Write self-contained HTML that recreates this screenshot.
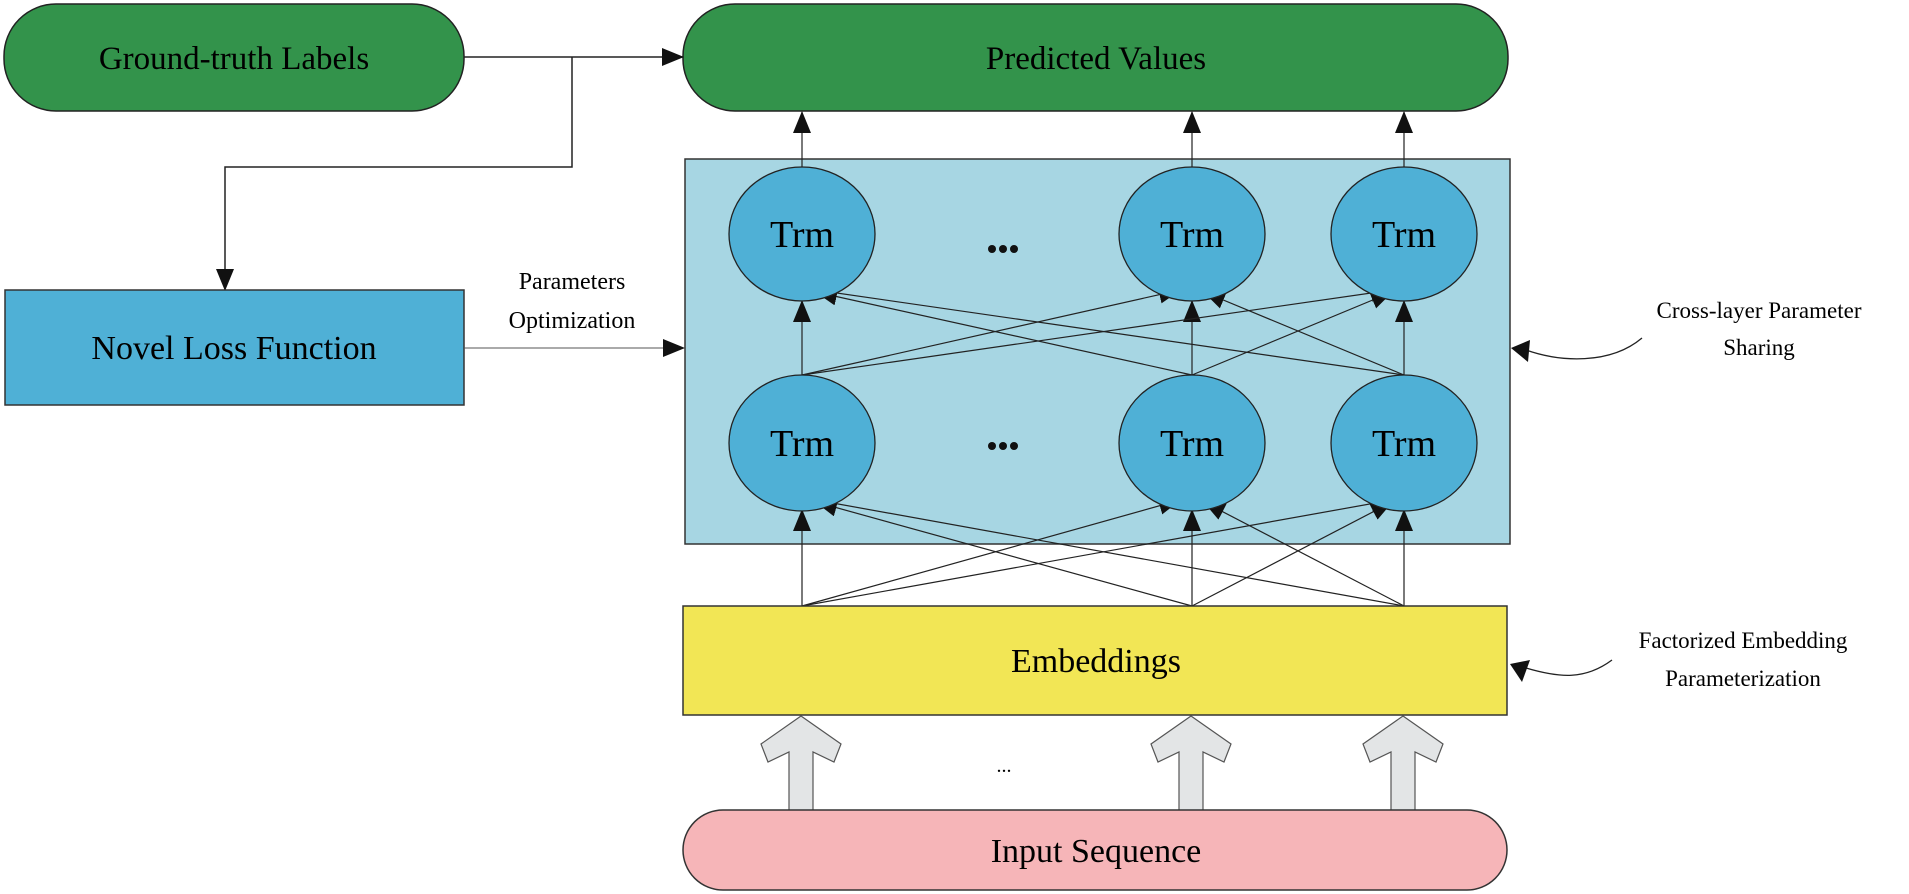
<!DOCTYPE html>
<html><head><meta charset="utf-8"><style>
html,body{margin:0;padding:0;background:#fff;}
svg{display:block;}
text{font-family:"Liberation Serif",serif;fill:#000;}
</style></head><body>
<svg width="1909" height="894" viewBox="0 0 1909 894" xmlns="http://www.w3.org/2000/svg">
<defs>
<marker id="a" markerUnits="userSpaceOnUse" markerWidth="22" markerHeight="18" refX="21" refY="9" orient="auto">
<path d="M0,0 L22,9 L0,18 Z" fill="#111"/>
</marker>
</defs>
<rect x="4" y="4" width="460" height="107" rx="52" ry="52" fill="#33934b" stroke="#222" stroke-width="1.5"/>
<text x="234" y="69" font-size="33" text-anchor="middle">Ground-truth Labels</text>
<rect x="683" y="4" width="825" height="107" rx="52" ry="52" fill="#33934b" stroke="#222" stroke-width="1.5"/>
<text x="1096" y="69" font-size="33" text-anchor="middle">Predicted Values</text>
<line x1="464" y1="57" x2="683" y2="57" stroke="#222" stroke-width="1.5" marker-end="url(#a)"/>
<polyline points="572,57 572,167 225,167 225,290" fill="none" stroke="#222" stroke-width="1.5" marker-end="url(#a)"/>
<rect x="5" y="290" width="459" height="115" fill="#4fb0d6" stroke="#333" stroke-width="1.5"/>
<text x="234" y="359" font-size="34" text-anchor="middle">Novel Loss Function</text>
<line x1="464" y1="348" x2="684" y2="348" stroke="#555" stroke-width="1" marker-end="url(#a)"/>
<text x="572" y="289" font-size="24" text-anchor="middle">Parameters</text>
<text x="572" y="328" font-size="24" text-anchor="middle">Optimization</text>
<rect x="685" y="159" width="825" height="385" fill="#a7d6e3" stroke="#333" stroke-width="1.5"/>
<g stroke="#222" stroke-width="1.2">
<line x1="802" y1="167" x2="802" y2="112" marker-end="url(#a)"/>
<line x1="1192" y1="167" x2="1192" y2="112" marker-end="url(#a)"/>
<line x1="1404" y1="167" x2="1404" y2="112" marker-end="url(#a)"/>
</g>
<g stroke="#222" stroke-width="1.2" fill="none">
<line x1="802" y1="375" x2="802" y2="301" marker-end="url(#a)"/>
<line x1="1192" y1="375" x2="1192" y2="301" marker-end="url(#a)"/>
<line x1="1404" y1="375" x2="1404" y2="301" marker-end="url(#a)"/>
<line x1="802" y1="375" x2="1180" y2="290" marker-end="url(#a)"/>
<line x1="802" y1="375" x2="1392" y2="290" marker-end="url(#a)"/>
<line x1="1192" y1="375" x2="816" y2="292" marker-end="url(#a)"/>
<line x1="1192" y1="375" x2="1392" y2="292" marker-end="url(#a)"/>
<line x1="1404" y1="375" x2="816" y2="290" marker-end="url(#a)"/>
<line x1="1404" y1="375" x2="1204" y2="292" marker-end="url(#a)"/>
</g>
<g stroke="#222" stroke-width="1.2" fill="none">
<line x1="802" y1="606" x2="802" y2="510" marker-end="url(#a)"/>
<line x1="1192" y1="606" x2="1192" y2="510" marker-end="url(#a)"/>
<line x1="1404" y1="606" x2="1404" y2="510" marker-end="url(#a)"/>
<line x1="802" y1="606" x2="1180" y2="500" marker-end="url(#a)"/>
<line x1="802" y1="606" x2="1392" y2="500" marker-end="url(#a)"/>
<line x1="1192" y1="606" x2="816" y2="502" marker-end="url(#a)"/>
<line x1="1192" y1="606" x2="1392" y2="502" marker-end="url(#a)"/>
<line x1="1404" y1="606" x2="816" y2="500" marker-end="url(#a)"/>
<line x1="1404" y1="606" x2="1204" y2="502" marker-end="url(#a)"/>
</g>
<g fill="#4fb0d6" stroke="#222" stroke-width="1.3">
<ellipse cx="802" cy="234" rx="73" ry="67"/>
<ellipse cx="1192" cy="234" rx="73" ry="67"/>
<ellipse cx="1404" cy="234" rx="73" ry="67"/>
<ellipse cx="802" cy="443" rx="73" ry="68"/>
<ellipse cx="1192" cy="443" rx="73" ry="68"/>
<ellipse cx="1404" cy="443" rx="73" ry="68"/>
</g>
<g font-size="38" text-anchor="middle">
<text x="802" y="247">Trm</text>
<text x="1192" y="247">Trm</text>
<text x="1404" y="247">Trm</text>
<text x="802" y="456">Trm</text>
<text x="1192" y="456">Trm</text>
<text x="1404" y="456">Trm</text>
</g>
<g fill="#111">
<circle cx="992" cy="249" r="4"/><circle cx="1003" cy="249" r="4"/><circle cx="1014" cy="249" r="4"/>
<circle cx="992" cy="446" r="4"/><circle cx="1003" cy="446" r="4"/><circle cx="1014" cy="446" r="4"/>
</g>
<rect x="683" y="606" width="824" height="109" fill="#f2e655" stroke="#333" stroke-width="1.5"/>
<text x="1096" y="672" font-size="34" text-anchor="middle">Embeddings</text>
<g fill="#e3e5e6" stroke="#555" stroke-width="1.2">
<path d="M801,716 L841,744 L834,762 L813,752 L813,812 L789,812 L789,752 L768,762 L761,744 Z"/>
<path transform="translate(390,0)" d="M801,716 L841,744 L834,762 L813,752 L813,812 L789,812 L789,752 L768,762 L761,744 Z"/>
<path transform="translate(602,0)" d="M801,716 L841,744 L834,762 L813,752 L813,812 L789,812 L789,752 L768,762 L761,744 Z"/>
</g>
<text x="1004" y="772" font-size="20" text-anchor="middle">...</text>
<rect x="683" y="810" width="824" height="80" rx="40" ry="40" fill="#f6b5b8" stroke="#333" stroke-width="1.5"/>
<text x="1096" y="862" font-size="34" text-anchor="middle">Input Sequence</text>
<text x="1759" y="318" font-size="23" text-anchor="middle">Cross-layer Parameter</text>
<text x="1759" y="355" font-size="23" text-anchor="middle">Sharing</text>
<path d="M1642,338 C1610,365 1560,362 1526,350" fill="none" stroke="#222" stroke-width="1.3"/>
<path d="M1511,348 L1530,340 L1528,362 Z" fill="#111"/>
<text x="1743" y="648" font-size="23" text-anchor="middle">Factorized Embedding</text>
<text x="1743" y="686" font-size="23" text-anchor="middle">Parameterization</text>
<path d="M1612,660 C1585,680 1560,678 1526,668" fill="none" stroke="#222" stroke-width="1.3"/>
<path d="M1510,664 L1530,660 L1522,682 Z" fill="#111"/>
</svg>
</body></html>
